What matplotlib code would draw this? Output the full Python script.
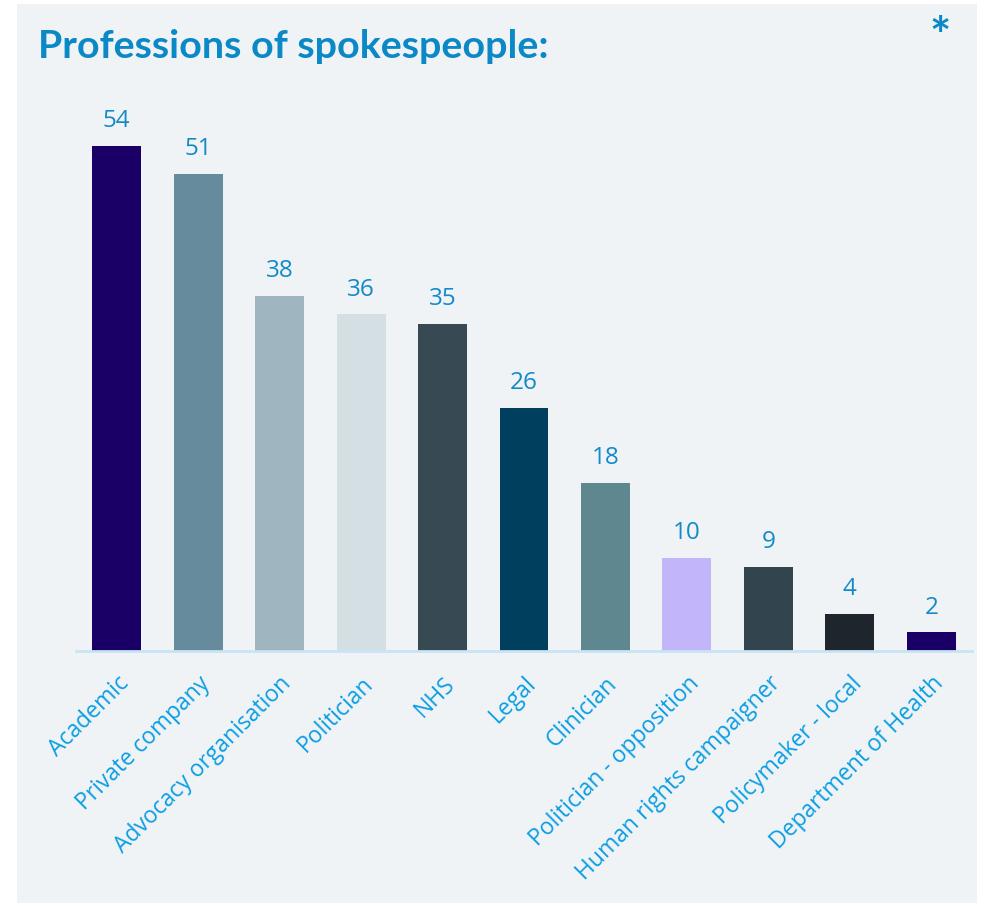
import matplotlib
matplotlib.use("Agg")
import matplotlib.pyplot as plt

categories = ["Academic", "Private company", "Advocacy organisation", "Politician",
              "NHS", "Legal", "Clinician", "Politician - opposition",
              "Human rights campaigner", "Policymaker - local", "Department of Health"]
counts = [54, 51, 38, 36, 35, 26, 18, 10, 9, 4, 2]
bar_colors = ["#1A0066", "#668B9D", "#9FB5C0", "#D3DFE3", "#374A54", "#00405E",
              "#5F8790", "#C2B5F9", "#32444E", "#1F252C", "#1A0066"]

title_color = "#0B88C6"
label_color = "#0B9EE4"
value_color = "#138AC8"
panel_color = "#EFF3F5"

W, H = 985, 907
fig = plt.figure(figsize=(W / 100, H / 100), dpi=100)
fig.patch.set_facecolor("white")

# light panel behind the chart
bg = fig.add_axes([17 / W, 1 - 903 / H, (977 - 17) / W, (903 - 4) / H], zorder=0)
bg.set_facecolor(panel_color)
bg.set_xticks([])
bg.set_yticks([])
for s in bg.spines.values():
    s.set_visible(False)

ax = fig.add_axes([76 / W, 1 - 651 / H, (972 - 76) / W, 561 / H], zorder=1)
ax.set_facecolor("none")
x = list(range(len(categories)))
ax.bar(x, counts, width=0.6, color=bar_colors, zorder=2)
ax.set_xlim(-0.5, len(categories) - 0.5)
ax.set_ylim(0, 60)

for xi, v in zip(x, counts):
    ax.annotate(str(v), (xi, v), xytext=(0, 13.5), textcoords="offset points",
                ha="center", va="baseline", fontsize=17.5, color=value_color,
                family="Open Sans")

for s in ["top", "right", "left"]:
    ax.spines[s].set_visible(False)
ax.spines["bottom"].set_color("#C8E4F5")
ax.spines["bottom"].set_linewidth(2)
ax.set_yticks([])
ax.set_xticks(x)
ax.set_xticklabels(categories, rotation=45, ha="right", rotation_mode="anchor",
                   fontsize=16.5, color=label_color, family="Open Sans")
ax.tick_params(axis="x", length=0, pad=15)

fig.text(38 / W, 1 - 47 / H, "Professions of spokespeople:", fontsize=28.4,
         fontweight="bold", color=title_color, va="center", ha="left",
         family="Lato", zorder=3)
fig.text(940 / W, 1 - 38 / H, "*", fontsize=36, fontweight="bold",
         color=title_color, va="center", ha="center", family="Lato", zorder=3)

fig.savefig("out.png", dpi=100, facecolor=fig.get_facecolor())
